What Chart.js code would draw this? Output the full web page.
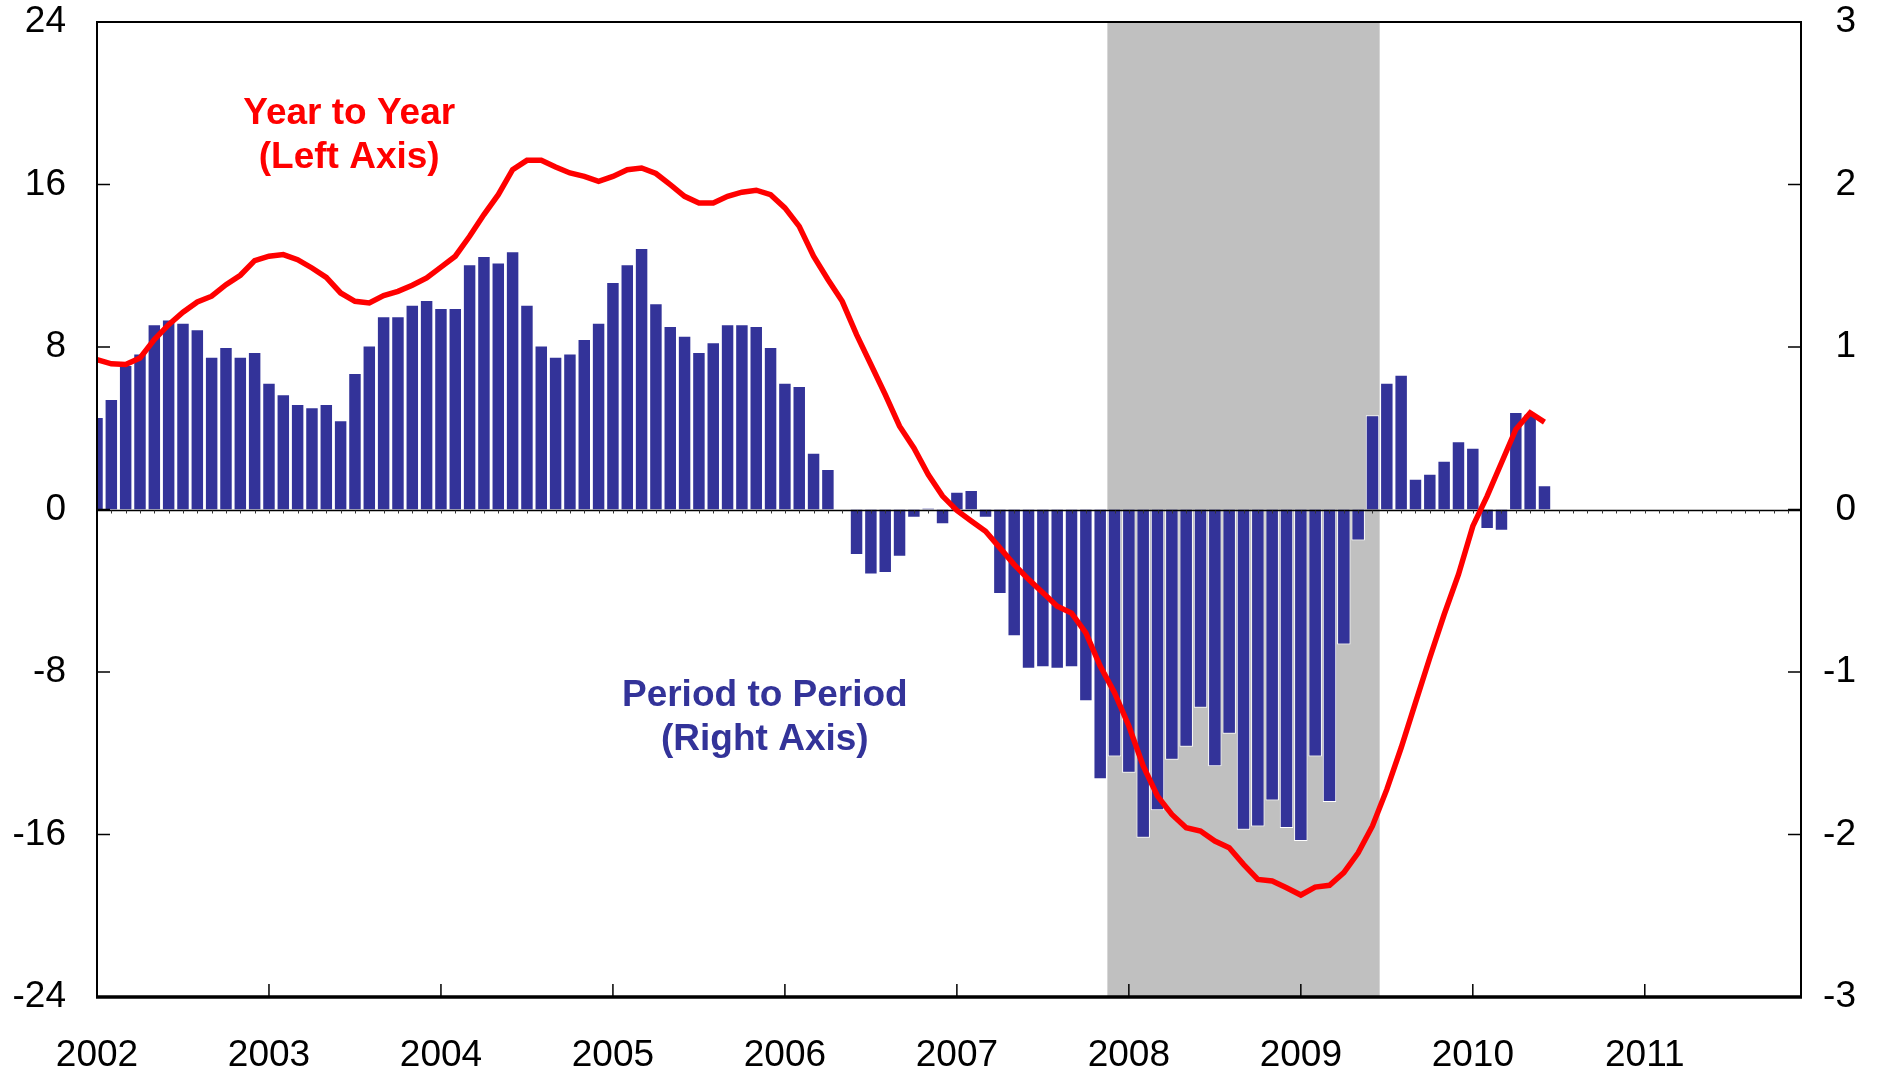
<!DOCTYPE html>
<html>
<head>
<meta charset="utf-8">
<script src="https://cdn.jsdelivr.net/npm/chart.js@4.4.1/dist/chart.umd.min.js"></script>
<style>
  html, body { margin: 0; padding: 0; background: #ffffff; }
  #wrap { width: 1883px; height: 1074px; }
</style>
</head>
<body>
<div id="wrap"><canvas id="c" width="1883" height="1074"></canvas></div>
<script>
// ---- Data (monthly, index 0 = Jan 2002) ----
const startYear = 2002;
const yearLabels = ['2002','2003','2004','2005','2006','2007','2008','2009','2010','2011'];
const axisMonths = 118.9;          // axis runs Jan 2002 .. ~Dec 2011
const leftTicks  = [-24, -16, -8, 0, 8, 16, 24];
const rightTicks = [-3, -2, -1, 0, 1, 2, 3];

// Period to Period (right axis), Jan 2002 .. Jun 2010
const periodToPeriod = [
  0.57, 0.68, 0.89, 0.96, 1.14, 1.17, 1.15, 1.11, 0.94, 1.00, 0.94, 0.97,
  0.78, 0.71, 0.65, 0.63, 0.65, 0.55, 0.84, 1.01, 1.19, 1.19, 1.26, 1.29,
  1.24, 1.24, 1.51, 1.56, 1.52, 1.59, 1.26, 1.01, 0.94, 0.96, 1.05, 1.15,
  1.40, 1.51, 1.61, 1.27, 1.13, 1.07, 0.97, 1.03, 1.14, 1.14, 1.13, 1.00,
  0.78, 0.76, 0.35, 0.25, 0.00, -0.28, -0.40, -0.39, -0.29, -0.05, 0.01, -0.09,
  0.11, 0.12, -0.05, -0.52, -0.78, -0.98, -0.97, -0.98, -0.97, -1.18, -1.66, -1.52,
  -1.62, -2.02, -1.85, -1.54, -1.46, -1.22, -1.58, -1.38, -1.97, -1.95, -1.79, -1.96,
  -2.04, -1.52, -1.80, -0.83, -0.19, 0.58, 0.78, 0.83, 0.19, 0.22, 0.30, 0.42,
  0.38, -0.12, -0.13, 0.60, 0.59, 0.15
];

// Year to Year (left axis), Jan 2002 .. Jun 2010
const yearToYear = [
  7.38, 7.17, 7.14, 7.46, 8.37, 9.10, 9.71, 10.22, 10.50, 11.07, 11.53, 12.25,
  12.47, 12.55, 12.30, 11.89, 11.43, 10.66, 10.25, 10.17, 10.53, 10.74, 11.04, 11.40,
  11.93, 12.47, 13.45, 14.52, 15.50, 16.73, 17.19, 17.19, 16.86, 16.57, 16.40, 16.16,
  16.40, 16.73, 16.81, 16.54, 15.99, 15.42, 15.09, 15.09, 15.42, 15.62, 15.72, 15.50,
  14.85, 13.94, 12.47, 11.32, 10.25, 8.61, 7.14, 5.66, 4.10, 3.03, 1.72, 0.66,
  -0.05, -0.57, -1.07, -1.89, -2.71, -3.44, -4.10, -4.76, -5.10, -6.07, -7.71, -9.02,
  -10.66, -12.63, -14.11, -15.01, -15.67, -15.83, -16.32, -16.65, -17.47, -18.21, -18.29, -18.62,
  -18.98, -18.59, -18.50, -17.88, -16.90, -15.58, -13.78, -11.73, -9.51, -7.30, -5.17, -3.20,
  -0.82, 0.66, 2.30, 3.94, 4.76, 4.30
];

// Recession: Dec 2007 .. Jun 2009 (month indices)
const recessionStartMonth = 71;
const recessionEndMonth = 89;

// ---- Styling ----
const FONT = "'Liberation Sans', Arial, sans-serif";
const BAR_BLUE = '#333399';
const LINE_RED = '#ff0000';

const decorPlugin = {
  id: 'decor',
  beforeDatasetsDraw(chart) {
    const {ctx, chartArea: a, scales: {x}} = chart;
    const x0 = x.getPixelForValue(recessionStartMonth - 0.5);
    const x1 = x.getPixelForValue(recessionEndMonth + 0.5);
    ctx.save();
    ctx.fillStyle = '#c0c0c0';
    ctx.fillRect(x0, a.top, x1 - x0, a.bottom - a.top);
    ctx.restore();
  },
  afterDatasetDraw(chart, args) {
    if (args.index !== 0) return;
    const {ctx, chartArea: a, scales: {x, yR}} = chart;
    const y0 = Math.round(yR.getPixelForValue(0)) + 0.5;
    ctx.save();
    ctx.strokeStyle = '#000000';
    ctx.lineWidth = 1.5;
    ctx.beginPath();
    ctx.moveTo(a.left, y0);
    ctx.lineTo(a.right, y0);
    ctx.stroke();
    ctx.lineWidth = 1;
    ctx.strokeStyle = '#333333';
    ctx.beginPath();
    for (let m = 0; m <= axisMonths; m++) {
      const px = Math.round(x.getPixelForValue(m)) + 0.5;
      ctx.moveTo(px, y0);
      ctx.lineTo(px, y0 + 3);
    }
    ctx.stroke();
    ctx.restore();
  },
  afterDraw(chart) {
    const {ctx, chartArea: a, scales: {x, yL, yR}} = chart;
    ctx.save();
    ctx.strokeStyle = '#000000';
    // ticks (inward)
    ctx.lineWidth = 1.5;
    ctx.beginPath();
    leftTicks.forEach(v => {
      const py = yL.getPixelForValue(v);
      ctx.moveTo(a.left, py); ctx.lineTo(a.left + 13, py);
    });
    rightTicks.forEach(v => {
      const py = yR.getPixelForValue(v);
      ctx.moveTo(a.right, py); ctx.lineTo(a.right - 13, py);
    });
    yearLabels.forEach((lbl, k) => {
      const px = x.getPixelForValue(k * 12);
      ctx.moveTo(px, a.bottom); ctx.lineTo(px, a.bottom - 13);
    });
    ctx.stroke();
    // frame
    ctx.lineWidth = 2;
    ctx.strokeRect(a.left, a.top, a.right - a.left, a.bottom - a.top);
    ctx.lineWidth = 3.5;
    ctx.beginPath();
    ctx.moveTo(a.left - 1, a.bottom); ctx.lineTo(a.right + 1, a.bottom);
    ctx.stroke();

    // annotations
    ctx.font = "bold 37px " + FONT;
    ctx.textAlign = 'center';
    ctx.textBaseline = 'middle';
    ctx.fillStyle = LINE_RED;
    const yyX = x.getPixelForValue(17.6);
    ctx.fillText('Year to Year', yyX, yL.getPixelForValue(19.5));
    ctx.fillText('(Left Axis)', yyX, yL.getPixelForValue(17.3));
    ctx.fillStyle = BAR_BLUE;
    const ppX = x.getPixelForValue(46.6);
    ctx.fillText('Period to Period', ppX, yL.getPixelForValue(-9.15));
    ctx.fillText('(Right Axis)', ppX, yL.getPixelForValue(-11.35));
    ctx.restore();
  }
};

const tickFont = { family: FONT, size: 37 };
const noPad = s => { s.paddingTop = 0; s.paddingBottom = 0; };

new Chart(document.getElementById('c'), {
  data: {
    datasets: [
      {
        type: 'bar',
        label: 'Period to Period',
        data: periodToPeriod.map((v, i) => ({ x: i, y: v })),
        xAxisID: 'x',
        yAxisID: 'yR',
        backgroundColor: BAR_BLUE,
        borderColor: '#ffffff',
        borderWidth: 1,
        categoryPercentage: 1.0,
        barPercentage: 0.94,
        order: 2
      },
      {
        type: 'line',
        label: 'Year to Year',
        data: yearToYear.map((v, i) => ({ x: i, y: v })),
        xAxisID: 'x',
        yAxisID: 'yL',
        borderColor: LINE_RED,
        borderWidth: 5.5,
        pointRadius: 0,
        tension: 0,
        fill: false,
        order: 1
      }
    ]
  },
  options: {
    responsive: false,
    animation: false,
    devicePixelRatio: 1,
    layout: { padding: { top: 22, right: 27, left: 0, bottom: 0 } },
    plugins: { legend: { display: false }, tooltip: { enabled: false } },
    scales: {
      x: {
        type: 'linear',
        position: 'bottom',
        offset: false,
        min: 0,
        max: axisMonths,
        grid: { display: false, drawTicks: false, offset: false },
        border: { display: false },
        afterBuildTicks: s => { s.ticks = yearLabels.map((l, k) => ({ value: k * 12 })); },
        ticks: {
          font: tickFont, color: '#000000', padding: 37, maxRotation: 0, autoSkip: false,
          callback: (v) => yearLabels[Math.round(v / 12)] || ''
        },
        afterFit: s => { s.height = 77; s.paddingLeft = 0; s.paddingRight = 0; }
      },
      yL: {
        type: 'linear',
        position: 'left',
        min: -24, max: 24,
        grid: { display: false, drawTicks: false },
        border: { display: false },
        afterBuildTicks: s => { s.ticks = leftTicks.map(v => ({ value: v })); },
        ticks: { font: tickFont, color: '#000000', padding: 31 },
        afterFit: s => { s.width = 97; noPad(s); }
      },
      yR: {
        type: 'linear',
        position: 'right',
        min: -3, max: 3,
        grid: { display: false, drawTicks: false },
        border: { display: false },
        afterBuildTicks: s => { s.ticks = rightTicks.map(v => ({ value: v })); },
        ticks: { font: tickFont, color: '#000000', padding: 30, crossAlign: 'far' },
        afterFit: s => { s.width = 55; noPad(s); }
      }
    }
  },
  plugins: [decorPlugin]
});
</script>
</body>
</html>
